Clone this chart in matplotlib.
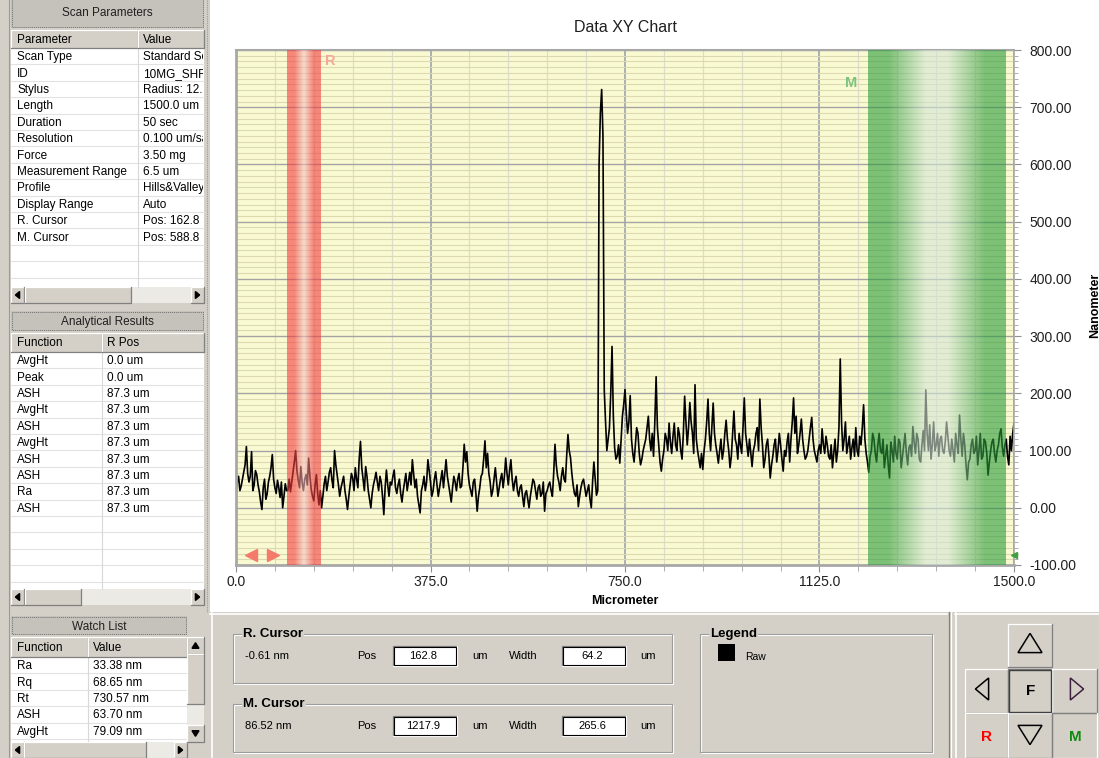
import numpy as np
import matplotlib
matplotlib.use("Agg")
import matplotlib.pyplot as plt
from matplotlib.patches import Rectangle, Polygon
from matplotlib.colors import LinearSegmentedColormap
from matplotlib.ticker import MultipleLocator, FormatStrFormatter

plt.rcParams['font.family'] = ['Liberation Sans', 'DejaVu Sans']

# profile height in nm. raw_nm holds the samples at 0, 5, 10 ... 1500 um,
# raw_nm_mid the samples in between (2.5, 7.5 ... 1497.5 um)
step_um = 2.5
raw_nm = [
    # 0 - 95
    20, 55, 38, 62, 107, 45, 98, 40, 58, 28, -3, 50, 24, 55, 93, 35, 48, 18, 0, 42,
    # 100 - 195
    30, 28, 62, 100, 48, 72, 30, 58, 87, 32, 12, 58, 5, 0, 42, 30, 62, 48, 100, 58,
    # 200 - 295
    20, 45, 30, -3, 40, 52, 70, 35, 116, 50, 72, 30, 0, 40, 62, 30, 45, -12, 66, 20,
    # 300 - 395
    40, 66, 25, 50, 10, 45, 30, 62, 84, 35, 20, -9, 40, 30, 84, 45, 30, 63, 20, 50,
    # 400 - 495
    35, 84, 40, 10, 55, 30, 60, 38, 111, 98, 40, 20, 50, -6, 35, 60, 117, 95, 45, 30,
    # 500 - 595
    70, 20, 50, 35, 87, 40, 84, 30, 55, 20, 40, 2, 30, 0, 35, 45, 15, 40, 25, -6,
    # 600 - 695
    30, 45, 20, 111, 55, 30, 70, 45, 128, 87, 40, 20, 2, 35, 50, 20, 40, 0, 80, 22,
    # 700 - 795
    600, 731, 206, 100, 140, 282, 105, 90, 78, 160, 207, 130, 196, 95, 110, 130, 75, 100, 120, 160,
    # 800 - 895
    100, 90, 229, 110, 64, 100, 120, 148, 95, 148, 100, 128, 85, 195, 110, 184, 130, 215, 100, 70,
    # 900 - 995
    67, 120, 190, 100, 183, 110, 78, 120, 100, 153, 100, 90, 169, 110, 130, 95, 192, 110, 120, 72,
    # 1000 - 1095
    110, 140, 190, 110, 85, 120, 52, 90, 120, 100, 110, 64, 90, 130, 120, 192, 160, 110, 155, 100,
    # 1100 - 1195
    90, 120, 158, 100, 80, 110, 138, 95, 110, 85, 70, 120, 100, 260, 100, 150, 110, 85, 120, 140,
    # 1200 - 1295
    90, 110, 180, 95, 62, 100, 120, 80, 130, 95, 70, 110, 52, 100, 125, 85, 115, 90, 130, 75,
    # 1300 - 1395
    110, 142, 95, 120, 80, 135, 206, 100, 85, 150, 110, 90, 125, 95, 150, 100, 120, 80, 110, 162,
    # 1400 - 1500
    90, 110, 49, 85, 120, 100, 75, 130, 90, 115, 57, 100, 120, 80, 110, 138, 90, 120, 75, 100,
    148,
]
raw_nm_mid = [
    45, 30, 50, 75, 60, 55, 30, 65, 40, 10, 35, 15, 45, 70, 50, 25, 35, 45, 20, 30,
    50, 45, 80, 65, 35, 45, 50, 40, 55, 20, 40, 25, 30, 20, 55, 45, 70, 35, 75, 40,
    35, 55, 15, 20, 60, 30, 50, 85, 70, 30, 55, 15, 25, 50, 45, 55, 20, 35, 40, 45,
    55, 35, 40, 25, 30, 60, 45, 40, 60, 50, 5, 30, 55, 45, 65, 20, 50, 40, 35, 65,
    60, 55, 25, 35, 45, 50, 35, 70, 80, 60, 30, 45, 25, 20, 55, 85, 70, 60, 20, 50,
    45, 35, 60, 55, 60, 65, 50, 45, 30, 35, 20, 25, 15, 20, 50, 30, 35, 20, 45, 25,
    40, 30, 60, 75, 45, 55, 50, 90, 100, 60, 25, 40, 20, 45, 35, 30, 15, 45, 50, 30,
    690, 650, 150, 120, 200, 160, 85, 110, 120, 180, 165, 150, 120, 80, 140, 95, 85, 110, 140, 120,
    130, 150, 140, 80, 85, 130, 100, 115, 125, 110, 140, 100, 130, 150, 140, 150, 95, 120, 85, 95,
    100, 150, 130, 140, 130, 95, 100, 85, 130, 120, 70, 130, 120, 85, 110, 140, 130, 90, 95, 100,
    130, 100, 140, 70, 110, 90, 75, 110, 80, 130, 85, 100, 115, 80, 150, 130, 95, 130, 120, 85,
    100, 140, 120, 90, 100, 95, 110, 125, 90, 110, 95, 80, 140, 150, 120, 95, 125, 105, 90, 100,
    125, 140, 120, 80, 90, 130, 95, 110, 100, 120, 90, 75, 115, 80, 95, 120, 70, 110, 95, 105,
    90, 115, 130, 85, 110, 100, 130, 145, 110, 100, 130, 120, 100, 115, 125, 90, 100, 130, 95, 120,
    130, 75, 80, 110, 95, 125, 100, 85, 120, 95, 80, 115, 95, 100, 130, 105, 110, 90, 125, 130,
]
profile_nm = []
for a, b in zip(raw_nm, raw_nm_mid):
    profile_nm += [a, b]
profile_nm.append(raw_nm[-1])
x_um = np.arange(len(profile_nm)) * step_um

x_ticks = [0, 375, 750, 1125, 1500]
y_ticks = [-100, 0, 100, 200, 300, 400, 500, 600, 700, 800]

r_pos, r_width, r_value = 162.8, 64.2, "-0.61 nm"
m_pos, m_width, m_value = 1217.9, 265.6, "86.52 nm"

scan_names = ["Scan Type", "ID", "Stylus", "Length", "Duration", "Resolution", "Force",
              "Measurement Range", "Profile", "Display Range", "R. Cursor", "M. Cursor"]
scan_values = ["Standard Scan", "10MG_SHRT", "Radius: 12.5 um", "1500.0 um", "50 sec",
               "0.100 um/sample", "3.50 mg", "6.5 um", "Hills&Valleys", "Auto",
               "Pos: 162.8 um", "Pos: 588.8 um"]
result_funcs = ["AvgHt", "Peak", "ASH", "AvgHt", "ASH", "AvgHt", "ASH", "ASH", "Ra", "ASH"]
result_rpos = ["0.0 um", "0.0 um", "87.3 um", "87.3 um", "87.3 um", "87.3 um",
               "87.3 um", "87.3 um", "87.3 um", "87.3 um"]
watch_funcs = ["Ra", "Rq", "Rt", "ASH", "AvgHt"]
watch_values = ["33.38 nm", "68.65 nm", "730.57 nm", "63.70 nm", "79.09 nm"]

W, H = 1099, 758
GRAY = '#D4D0C8'
DARK = '#808080'
FS = 8.5

fig = plt.figure(figsize=(W / 100, H / 100), dpi=100)
fig.patch.set_facecolor(GRAY)
ui = fig.add_axes([0, 0, 1, 1])
ui.set_xlim(0, W)
ui.set_ylim(H, 0)
ui.axis('off')


def box(x, y, w, h, face, edge='none', lw=0.8, z=1, **kw):
    p = Rectangle((x, y), w, h, facecolor=face, edgecolor=edge, lw=lw, zorder=z, **kw)
    ui.add_patch(p)
    return p


def bevel(x, y, w, h, sunken=False, face=GRAY, z=2):
    box(x, y, w, h, face, z=z)
    hi, lo = (DARK, 'white') if sunken else ('white', DARK)
    ui.plot([x, x, x + w], [y + h, y, y], color=hi, lw=0.9, zorder=z + 0.1)
    ui.plot([x, x + w, x + w], [y + h, y + h, y], color=lo, lw=0.9, zorder=z + 0.1)


def tri(cx, cy, size, direction, fill=True, color='black', lw=1.0, z=3):
    s = size / 2
    pts = {'l': [(cx + s * 0.6, cy - s), (cx + s * 0.6, cy + s), (cx - s * 0.6, cy)],
           'r': [(cx - s * 0.6, cy - s), (cx - s * 0.6, cy + s), (cx + s * 0.6, cy)],
           'u': [(cx - s, cy + s * 0.8), (cx + s, cy + s * 0.8), (cx, cy - s * 0.8)],
           'd': [(cx - s, cy - s * 0.8), (cx + s, cy - s * 0.8), (cx, cy + s * 0.8)]}[direction]
    ui.add_patch(Polygon(pts, closed=True, fill=fill, facecolor=color if fill else 'none',
                         edgecolor=color, lw=lw, zorder=z))


def hscroll(x0, x1, y, t0, t1, h=16):
    box(x0, y, x1 - x0, h, '#ECEAE5')
    bevel(x0, y, 13, h)
    tri(x0 + 6.5, y + h / 2, 7, 'l')
    bevel(t0, y, t1 - t0, h)
    bevel(x1 - 13, y, 13, h)
    tri(x1 - 6.5, y + h / 2, 7, 'r')


def table(title, t_top, t_bot, h_bot, split, headers, names, values, body_bot,
          left=11, right=204):
    box(left, t_top, right - left, t_bot - t_top, '#C5C2BC')
    ui.add_patch(Rectangle((left + 1, t_top + 1), right - left - 2, t_bot - t_top - 2, fill=False,
                           edgecolor='#707070', lw=0.7, ls=(0, (1, 1)), zorder=1.5))
    ui.text((left + right) / 2, (t_top + t_bot) / 2 + 1, title, ha='center', va='center',
            fontsize=FS, color='#202020', zorder=3)
    bevel(left, t_bot + 2, split - left, h_bot - t_bot - 2)
    bevel(split, t_bot + 2, right - split, h_bot - t_bot - 2)
    hy = (t_bot + 2 + h_bot) / 2 + 1
    ui.text(left + 6, hy, headers[0], ha='left', va='center', fontsize=FS, zorder=3)
    ui.text(split + 5, hy, headers[1], ha='left', va='center', fontsize=FS, zorder=3)
    box(left, h_bot, right - left, body_bot - h_bot, 'white')
    pitch = 16.4
    yy = h_bot + pitch
    while yy < body_bot:
        ui.plot([left, right], [yy, yy], color='#E2E2E2', lw=0.8, zorder=1.2)
        yy += pitch
    ui.plot([split, split], [h_bot, body_bot], color='#D8D8D8', lw=0.8, zorder=1.2)
    clip = Rectangle((split, h_bot), right - split - 1, body_bot - h_bot, transform=ui.transData)
    for i, (n, v) in enumerate(zip(names, values)):
        cy = h_bot + pitch * (i + 0.5) + 1
        ui.text(left + 6, cy, n, ha='left', va='center', fontsize=FS, zorder=3)
        t = ui.text(split + 5, cy, v, ha='left', va='center', fontsize=FS, zorder=3, clip_on=True)
        t.set_clip_path(clip)


# ---------- window background ----------
box(210, 0, W - 210, 612, 'white', z=0.5)
box(204, 0, 6, 612, GRAY)
ui.plot([206.5, 206.5], [0, 612], color='#9A9A9A', lw=0.8, ls=(0, (1, 1)))
ui.plot([9, 9], [0, H], color='#9A9A9A', lw=0.8)

table("Scan Parameters", -4, 28, 48, 138, ["Parameter", "Value"], scan_names, scan_values, 287)
hscroll(11, 204, 287, 25, 131)
table("Analytical Results", 311, 331, 352, 102, ["Function", "R Pos"], result_funcs, result_rpos, 589)
hscroll(11, 204, 589, 25, 81)
table("Watch List", 616, 635, 657, 88, ["Function", "Value"], watch_funcs, watch_values, 742,
      right=187)
hscroll(11, 187, 742, 24, 146)
# vertical scroll bar of the watch list
box(187, 637, 17, 105, '#ECEAE5')
bevel(187, 637, 17, 17)
tri(195.5, 645.5, 7, 'u')
bevel(187, 654, 17, 50)
bevel(187, 725, 17, 17)
tri(195.5, 733.5, 7, 'd')

# ---------- bottom cursor panel ----------
ui.plot([210, 947], [613.5, 613.5], color='white', lw=1.2)
ui.plot([211.5, 211.5], [613, H], color='white', lw=1.2)
ui.plot([948.5, 948.5], [612, H], color=DARK, lw=0.9)
ui.plot([951, 951], [612, H], color='white', lw=0.9)
ui.plot([955, W], [613.5, 613.5], color='white', lw=1.2)
ui.plot([955.5, 955.5], [613, H], color='white', lw=1.2)


def group(x, y, w, h, title):
    ui.add_patch(Rectangle((x + 1, y + 1), w, h, fill=False, edgecolor='white', lw=0.8))
    ui.add_patch(Rectangle((x, y), w, h, fill=False, edgecolor='#9C9C9C', lw=0.8))
    ui.text(x + 10, y, title, ha='left', va='center', fontsize=9.5, fontweight='bold',
            family=['Liberation Sans Narrow', 'Liberation Sans'],
            bbox=dict(facecolor=GRAY, edgecolor='none', pad=1), zorder=3)


def cursor_row(y, value, pos, width):
    ui.text(245, y, value, ha='left', va='center', fontsize=8)
    ui.text(357, y, "Pos", ha='left', va='center', fontsize=8)
    bevel(393, y - 10, 64, 20, sunken=True, face='white')
    ui.add_patch(Rectangle((394, y - 9), 62, 18, fill=False, edgecolor='black', lw=0.8, zorder=3))
    ui.text(423, y, f"{pos:.1f}", ha='center', va='center', fontsize=8, zorder=4)
    ui.text(472, y, "um", ha='left', va='center', fontsize=8)
    ui.text(509, y, "Width", ha='left', va='center', fontsize=8)
    bevel(562, y - 10, 64, 20, sunken=True, face='white')
    ui.add_patch(Rectangle((563, y - 9), 62, 18, fill=False, edgecolor='black', lw=0.8, zorder=3))
    ui.text(592, y, f"{width:.1f}", ha='center', va='center', fontsize=8, zorder=4)
    ui.text(640, y, "um", ha='left', va='center', fontsize=8)


group(233, 634, 439, 49, "R. Cursor")
cursor_row(656, r_value, r_pos, r_width)
group(233, 704, 439, 48, "M. Cursor")
cursor_row(726, m_value, m_pos, m_width)
group(700, 634, 232, 118, "Legend")
box(718, 644, 17, 17, 'black', z=3)
ui.text(745, 657, "Raw", ha='left', va='center', fontsize=7.5)

# ---------- navigation buttons ----------
bevel(1008, 624, 44, 43)
tri(1030, 643, 24, 'u', fill=False, lw=1.1)
bevel(965, 669, 43, 44)
tri(982, 689, 22, 'l', fill=False, lw=1.1)
bevel(1008, 669, 44, 44, sunken=True)
ui.add_patch(Rectangle((1009, 670), 42, 42, fill=False, edgecolor='#404040', lw=1.0, zorder=3))
ui.text(1031, 691, "F", ha='center', va='center', fontsize=11, fontweight='bold', zorder=4)
bevel(1052, 669, 45, 44)
tri(1077, 689, 22, 'r', fill=False, lw=1.1, color='#402040')
bevel(965, 713, 43, 45)
ui.text(986, 737, "R", ha='center', va='center', fontsize=11, fontweight='bold', color='#FF0000', zorder=4)
bevel(1008, 713, 44, 45)
tri(1030, 735, 24, 'd', fill=False, lw=1.1)
bevel(1052, 713, 45, 45, sunken=True)
ui.text(1075, 737, "M", ha='center', va='center', fontsize=11, fontweight='bold', color='#108A10', zorder=4)

# ---------- chart ----------
ui.text(625, 27, "Data XY Chart", ha='center', va='center', fontsize=11.5, color='#202020')
ui.text(625, 601, "Micrometer", ha='center', va='center', fontsize=9, fontweight='bold')
ui.text(1095, 305, "Nanometer", ha='center', va='center', fontsize=9, fontweight='bold', rotation=90)

ax = fig.add_axes([236 / W, 1 - 565 / H, 778 / W, 515 / H])
ax.set_facecolor('#FAFAD2')
ax.plot(x_um, profile_nm, color='black', lw=1.2, zorder=2)

red_cmap = LinearSegmentedColormap.from_list(
    'rband', [(0, '#F23C3D'), (0.22, '#F23C3D'), (0.5, '#F2C6C6'), (0.78, '#F23C3D'), (1, '#F23C3D')])
green_cmap = LinearSegmentedColormap.from_list(
    'mband', [(0, '#2A9B3A'), (0.15, '#2A9B3A'), (0.42, '#D3E4D5'), (0.58, '#D3E4D5'),
              (0.85, '#2A9B3A'), (1, '#2A9B3A')])
grad = np.linspace(0, 1, 256)[None, :]
ax.imshow(grad, cmap=red_cmap, extent=[r_pos - r_width, r_pos, -100, 800], aspect='auto',
          alpha=0.6, zorder=3, interpolation='bilinear')
ax.imshow(grad, cmap=green_cmap, extent=[m_pos, m_pos + m_width, -100, 800], aspect='auto',
          alpha=0.6, zorder=3, interpolation='bilinear')

ax.text(172, 780, "R", color='#F6A898', fontsize=10.5, fontweight='bold', va='center', zorder=4)
ax.text(1174, 743, "M", color='#7CC47C', fontsize=10.5, fontweight='bold', va='center', zorder=4)
ax.plot([29], [-82], marker='<', ms=8, color='#F47A6A', zorder=4)
ax.plot([72], [-82], marker='>', ms=8, color='#F47A6A', zorder=4)
ax.plot([1500], [-82], marker='<', ms=4, color='#40A040', zorder=4, clip_on=False)

ax.set_xlim(0, 1500)
ax.set_ylim(-100, 800)
ax.set_xticks(x_ticks)
ax.set_yticks(y_ticks)
ax.xaxis.set_minor_locator(MultipleLocator(75))
ax.yaxis.set_minor_locator(MultipleLocator(10))
ax.xaxis.set_major_formatter(FormatStrFormatter('%.1f'))
ax.yaxis.set_major_formatter(FormatStrFormatter('%.2f'))
ax.yaxis.tick_right()
ax.set_axisbelow(True)
ax.grid(which='major', axis='x', color='#A4ABB4', lw=1.3)
ax.grid(which='major', axis='y', color='#A4A4A4', lw=1.0)
ax.grid(which='minor', axis='y', color='#DCD8B0', lw=0.8)
ax.grid(which='minor', axis='x', color='#DCDCD0', lw=0.9)
ax.tick_params(axis='y', which='major', length=5, color='#909090', labelsize=10, pad=6,
               labelcolor='#202020')
ax.tick_params(axis='y', which='minor', length=3, color='#A0A0A0')
ax.tick_params(axis='x', which='major', length=5, color='#909090', labelsize=10, pad=2.5,
               labelcolor='#202020')
ax.tick_params(axis='x', which='minor', length=4, color='#A0A0A0')
for side, lw in (('left', 2.0), ('bottom', 2.0), ('top', 1.5), ('right', 1.2)):
    ax.spines[side].set_color('#A8A8A8')
    ax.spines[side].set_linewidth(lw)

fig.savefig('out.png', dpi=100, facecolor=fig.get_facecolor())
